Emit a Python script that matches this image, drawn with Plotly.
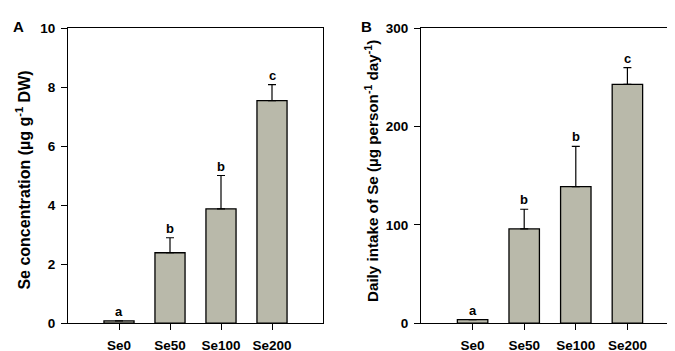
import plotly.graph_objects as go

categories = ["Se0", "Se50", "Se100", "Se200"]
conc_values = [0.08, 2.39, 3.88, 7.55]
conc_err = [0.0, 0.51, 1.13, 0.54]
conc_letters = ["a", "b", "b", "c"]
intake_values = [3.6, 96, 139, 243]
intake_err = [0.0, 20, 41, 17]
intake_letters = ["a", "b", "b", "c"]

xpos = list(range(len(categories)))
bar_color = "#B9B9AA"
font_family = "Liberation Sans, Arial, sans-serif"

fig = go.Figure()

def add_panel(vals, errs, xa, ya):
    fig.add_trace(go.Bar(
        x=xpos, y=vals, width=0.59, xaxis=xa, yaxis=ya,
        marker=dict(color=bar_color, line=dict(color="black", width=1.3)),
        error_y=dict(type="data", symmetric=False, array=errs,
                     arrayminus=[0] * len(errs), color="black",
                     thickness=1.2, width=4),
        showlegend=False, hoverinfo="skip",
    ))

add_panel(conc_values, conc_err, "x", "y")
add_panel(intake_values, intake_err, "x2", "y2")

axis_common = dict(showline=True, linecolor="black", linewidth=1.2, mirror=True,
                   ticks="outside", ticklen=6, tickcolor="black", tickwidth=1.2,
                   showgrid=False, zeroline=False, ticklabelstandoff=3,
                   tickfont=dict(family=font_family, size=13.5, color="black", weight="bold"))

fig.update_layout(
    width=675, height=351,
    margin=dict(l=0, r=0, t=0, b=0),
    plot_bgcolor="white", paper_bgcolor="white",
    xaxis=dict(domain=[60 / 675, 315 / 675], range=[-1, 4], tickvals=xpos,
               ticktext=categories, anchor="y", **axis_common),
    yaxis=dict(domain=[1 - 322 / 351, 1 - 14 / 351], range=[0, 10],
               tickvals=[0, 2, 4, 6, 8, 10], anchor="x", **axis_common),
    xaxis2=dict(domain=[413 / 675, 671 / 675], range=[-1, 4], tickvals=xpos,
                ticktext=categories, anchor="y2", **axis_common),
    yaxis2=dict(domain=[1 - 322 / 351, 1 - 14 / 351], range=[0, 300],
                tickvals=[0, 100, 200, 300], anchor="x2", **axis_common),
)

annots = []
for i, (v, e, l) in enumerate(zip(conc_values, conc_err, conc_letters)):
    annots.append(dict(x=i, y=v + e, xref="x", yref="y", text="<b>%s</b>" % l,
                       showarrow=False, yanchor="bottom", yshift=0,
                       font=dict(family=font_family, size=13, color="black")))
for i, (v, e, l) in enumerate(zip(intake_values, intake_err, intake_letters)):
    annots.append(dict(x=i, y=v + e, xref="x2", yref="y2", text="<b>%s</b>" % l,
                       showarrow=False, yanchor="bottom", yshift=0,
                       font=dict(family=font_family, size=13, color="black")))

annots.append(dict(x=15 / 675, y=1 - 173 / 351, xref="paper", yref="paper",
                   text="<b>Se concentration (µg g<sup>-1</sup> DW)</b>", textangle=-90,
                   showarrow=False, xanchor="center", yanchor="middle",
                   font=dict(family=font_family, size=16, color="black")))
annots.append(dict(x=363 / 675, y=1 - 163 / 351, xref="paper", yref="paper",
                   text="<b>Daily intake of Se (µg person<sup>-1</sup> day<sup>-1</sup>)</b>",
                   textangle=-90, showarrow=False, xanchor="center", yanchor="middle",
                   font=dict(family=font_family, size=15.2, color="black")))
annots.append(dict(x=10 / 675, y=1 - 12 / 351, xref="paper", yref="paper",
                   text="<b>A</b>", showarrow=False, xanchor="center", yanchor="middle",
                   font=dict(family=font_family, size=15, color="black")))
annots.append(dict(x=359 / 675, y=1 - 12 / 351, xref="paper", yref="paper",
                   text="<b>B</b>", showarrow=False, xanchor="center", yanchor="middle",
                   font=dict(family=font_family, size=15, color="black")))

fig.update_layout(annotations=annots)
fig.write_html("out.html")
